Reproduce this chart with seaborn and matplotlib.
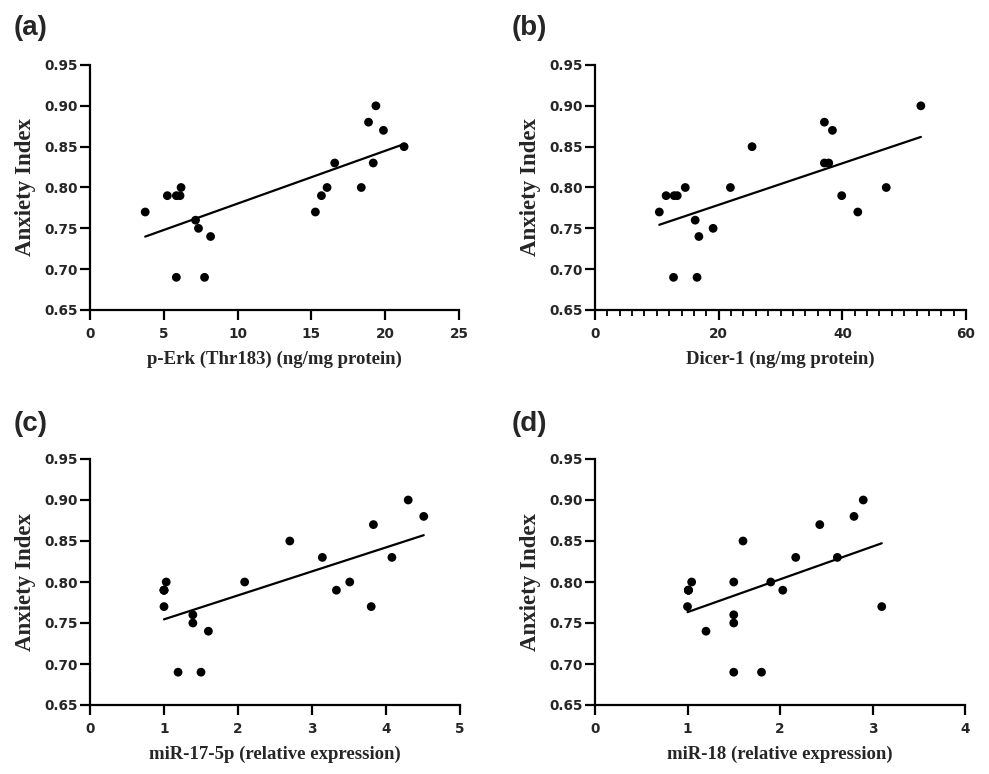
import matplotlib
matplotlib.use("Agg")
import matplotlib.pyplot as plt
import seaborn as sns
import numpy as np
from matplotlib.ticker import MultipleLocator

# ---- data ----
perk_x = [3.74, 5.24, 5.85, 6.10, 6.17, 5.85, 7.15, 7.35, 8.17, 7.76,
          15.27, 15.68, 16.06, 16.58, 18.38, 18.87, 19.37, 19.19, 19.88, 21.28]
perk_y = [0.77, 0.79, 0.79, 0.79, 0.80, 0.69, 0.76, 0.75, 0.74, 0.69,
          0.77, 0.79, 0.80, 0.83, 0.80, 0.88, 0.90, 0.83, 0.87, 0.85]

dicer_x = [10.4, 11.5, 12.8, 13.3, 14.6, 12.7, 16.2, 16.8, 16.5, 19.1,
           21.9, 25.4, 37.1, 37.1, 37.8, 38.4, 39.9, 42.5, 47.1, 52.7]
dicer_y = [0.77, 0.79, 0.79, 0.79, 0.80, 0.69, 0.76, 0.74, 0.69, 0.75,
           0.80, 0.85, 0.88, 0.83, 0.83, 0.87, 0.79, 0.77, 0.80, 0.90]

mir17_x = [1.03, 1.00, 1.00, 1.00, 1.00, 1.19, 1.39, 1.39, 1.60, 1.50, 2.09, 2.70,
           3.14, 3.33, 3.51, 3.80, 3.83, 4.08, 4.30, 4.51]
mir17_y = [0.80, 0.79, 0.79, 0.79, 0.77, 0.69, 0.76, 0.75, 0.74, 0.69, 0.80, 0.85,
           0.83, 0.79, 0.80, 0.77, 0.87, 0.83, 0.90, 0.88]

mir18_x = [1.045, 1.01, 1.01, 1.01, 1.00, 1.20, 1.50, 1.50, 1.50, 1.50, 1.60, 1.80,
           1.90, 2.03, 2.17, 2.43, 2.62, 2.80, 2.90, 3.10]
mir18_y = [0.80, 0.79, 0.79, 0.79, 0.77, 0.74, 0.80, 0.76, 0.75, 0.69, 0.85, 0.69,
           0.80, 0.79, 0.83, 0.87, 0.83, 0.88, 0.90, 0.77]

panel_letters = ["(a)", "(b)", "(c)", "(d)"]
x_labels = ["p-Erk (Thr183) (ng/mg protein)", "Dicer-1 (ng/mg protein)",
            "miR-17-5p (relative expression)", "miR-18 (relative expression)"]
y_label = "Anxiety Index"
x_limits = [(0, 25), (0, 60), (0, 5), (0, 4)]
x_major = [5, 20, 1, 1]
x_minor = [None, 2, None, None]
y_ticks = [0.65, 0.70, 0.75, 0.80, 0.85, 0.90, 0.95]

sns.set_style("ticks")
plt.rcParams['font.family'] = ['Liberation Sans', 'DejaVu Sans']

fig = plt.figure(figsize=(9.89, 7.74), dpi=100)
W, H = 989, 774
boxes = [(90, 65, 459, 310), (595, 65, 966, 310),
         (90, 459, 460, 705), (595, 459, 965, 705)]
letter_pos = [(14, 28), (512, 28), (14, 424), (512, 424)]

datasets = [(perk_x, perk_y), (dicer_x, dicer_y), (mir17_x, mir17_y), (mir18_x, mir18_y)]

for i, ((xs, ys), (l, t, r, b)) in enumerate(zip(datasets, boxes)):
    ax = fig.add_axes([l / W, 1 - b / H, (r - l) / W, (b - t) / H])
    sns.regplot(x=np.array(xs), y=np.array(ys), ax=ax, ci=None, truncate=True,
                scatter_kws=dict(s=40, color="black", edgecolor="none", alpha=1, zorder=3),
                line_kws=dict(color="black", lw=1.6))
    ax.set_xlim(*x_limits[i])
    ax.set_ylim(0.65, 0.95)
    ax.set_yticks(y_ticks)
    ax.set_yticklabels([f"{v:.2f}" for v in y_ticks])
    ax.xaxis.set_major_locator(MultipleLocator(x_major[i]))
    if x_minor[i]:
        ax.xaxis.set_minor_locator(MultipleLocator(x_minor[i]))
    for side in ["top", "right"]:
        ax.spines[side].set_visible(False)
    for side in ["left", "bottom"]:
        ax.spines[side].set_linewidth(1.6)
        ax.spines[side].set_color("black")
    ax.tick_params(axis="both", which="major", length=7, width=1.6, color="black",
                   labelsize=9.8)
    ax.tick_params(axis="x", which="major", pad=5)
    ax.tick_params(axis="y", which="major", pad=1.5)
    ax.tick_params(axis="x", which="minor", length=4, width=1.3, color="black")
    for lab in ax.get_xticklabels() + ax.get_yticklabels():
        lab.set_fontweight("bold")
        lab.set_family("DejaVu Sans")
    ax.set_xlabel(x_labels[i], fontsize=13.5, fontweight="bold",
                  family="Liberation Serif", labelpad=7)
    ax.set_ylabel(y_label, fontsize=16.5, fontweight="bold",
                  family="Liberation Serif", labelpad=6)
    lx, ly = letter_pos[i]
    fig.text(lx / W, 1 - ly / H, panel_letters[i], fontsize=20, fontweight="bold",
             ha="left", va="center")

fig.savefig("out.png", dpi=100, facecolor="white")
